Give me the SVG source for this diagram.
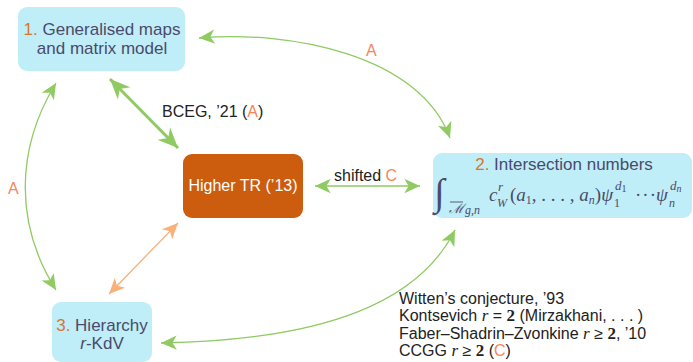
<svg xmlns="http://www.w3.org/2000/svg" width="693" height="362" viewBox="0 0 693 362">
<style>
.box{fill:#bfeef8}
.bt{font-family:"Liberation Sans",Arial,sans-serif;font-size:17px;fill:#4b4a6b;text-anchor:middle}
.num{fill:#d4772f}
.lbl{font-family:"Liberation Sans",Arial,sans-serif;font-size:16px;fill:#222}
.or{fill:#f5865a}
.g{fill:none;stroke:#8fca62;stroke-width:1.3}
.m{font-family:"Liberation Serif","Times New Roman",serif;fill:#4b4a6b;font-size:19px}
.i{font-style:italic}
.s{font-size:13px}
.ss{font-size:12px}
.sss{font-size:10px}
.big{font-size:38px}
.mi{font-family:"Liberation Serif","Times New Roman",serif;font-style:italic;font-size:17px}
.mb{font-family:"Liberation Serif","Times New Roman",serif;font-weight:bold;font-size:17px}
</style>
<defs>
<marker id="ag" markerUnits="userSpaceOnUse" markerWidth="20" markerHeight="20" viewBox="-12 -6 14 12" refX="0" refY="0" orient="auto-start-reverse">
<path d="M0,0 L-11,-5 L-8,0 L-11,5 Z" fill="#8fca62"/>
</marker>
<marker id="agb" markerUnits="userSpaceOnUse" markerWidth="24" markerHeight="24" viewBox="-17 -8 19 16" refX="0" refY="0" orient="auto-start-reverse">
<path d="M0,0 L-16,-7 L-11,0 L-16,7 Z" fill="#8fca62"/>
</marker>
<marker id="ao" markerUnits="userSpaceOnUse" markerWidth="20" markerHeight="20" viewBox="-12 -6 14 12" refX="0" refY="0" orient="auto-start-reverse">
<path d="M0,0 L-11,-5 L-8,0 L-11,5 Z" fill="#f9b07a"/>
</marker>
</defs>
<g id="connectors">
<path class="g" d="M199 38 C290 30,420 55,450 138" marker-start="url(#ag)" marker-end="url(#ag)"/>
<path class="g" d="M56 83 C15 150,15 225,56 290" marker-start="url(#ag)" marker-end="url(#ag)"/>
<path class="g" d="M455 230 C420 300,330 340,161 343" marker-start="url(#ag)" marker-end="url(#ag)"/>
<path class="g" d="M315 186 L420 186" marker-start="url(#ag)" marker-end="url(#ag)"/>
<path d="M110 79 L178 148" fill="none" stroke="#8fca62" stroke-width="3" marker-start="url(#agb)" marker-end="url(#agb)"/>
<path d="M178 223 L109 294" fill="none" stroke="#f9b07a" stroke-width="1.3" marker-start="url(#ao)" marker-end="url(#ao)"/>
<text class="lbl" x="162" y="117">BCEG, ’21 (<tspan class="or">A</tspan>)</text>
<text class="lbl or" x="366" y="56">A</text>
<text class="lbl or" x="8" y="194">A</text>
<text class="lbl" x="334" y="181">shifted <tspan class="or">C</tspan></text>
</g>
<g id="n1">
<rect class="box" x="18" y="7" width="167" height="64" rx="9"/>
<text class="bt" x="102" y="35"><tspan class="num">1.</tspan> Generalised maps</text>
<text class="bt" x="102" y="54">and matrix model</text>
</g>
<g id="n2">
<rect class="box" x="433" y="153" width="259" height="65" rx="9"/>
<text class="bt" x="564" y="170"><tspan class="num">2.</tspan> Intersection numbers</text>
<text class="m i big" x="434" y="205">∫</text>
<line x1="450" y1="202" x2="463" y2="202" stroke="#4b4a6b" stroke-width="0.9"/>
<text class="m i s" x="449" y="213">ℳ<tspan class="ss" dx="1" dy="1">g,n</tspan></text>
<text class="m i" x="489" y="201">c</text>
<text class="m i s" x="498" y="191">r</text>
<text class="m i ss" x="497" y="207">W</text>
<text class="m" x="613" y="201" text-anchor="end">(<tspan class="i">a</tspan><tspan class="ss" dy="3">1</tspan><tspan dy="-3">, . . . , </tspan><tspan class="i">a</tspan><tspan class="ss i" dy="3">n</tspan><tspan dy="-3">)</tspan><tspan class="i">ψ</tspan></text>
<text class="m ss" x="614" y="207">1</text>
<text class="m i s" x="615" y="190">d<tspan class="sss" font-style="normal" dy="2">1</tspan></text>
<text class="m" x="635" y="201" letter-spacing="1">···</text>
<text class="m i" x="656" y="201">ψ</text>
<text class="m i ss" x="669" y="207">n</text>
<text class="m i s" x="670" y="190">d<tspan class="sss" dy="2">n</tspan></text>
</g>
<g id="n3">
<rect x="183" y="154" width="120" height="64" rx="9" fill="#cc5c0e"/>
<text x="243" y="191" font-family="Liberation Sans,Arial,sans-serif" font-size="16" fill="#fff" text-anchor="middle">Higher TR (’13)</text>
</g>
<g id="n4">
<rect class="box" x="52" y="302" width="100" height="60" rx="9"/>
<text class="bt" x="102" y="331"><tspan class="num">3.</tspan> Hierarchy</text>
<text class="bt" x="102" y="349"><tspan font-style="italic">r</tspan>-KdV</text>
</g>
<g id="notes">
<text class="lbl" x="399" y="304">Witten’s conjecture, ’93</text>
<text class="lbl" x="399" y="321">Kontsevich <tspan class="mi">r</tspan> = <tspan class="mb">2</tspan> (Mirzakhani, . . . )</text>
<text class="lbl" x="399" y="339">Faber–Shadrin–Zvonkine <tspan class="mi">r</tspan> ≥ <tspan class="mb">2</tspan>, ’10</text>
<text class="lbl" x="399" y="356">CCGG <tspan class="mi">r</tspan> ≥ <tspan class="mb">2</tspan> (<tspan class="or">C</tspan>)</text>
</g>
</svg>
